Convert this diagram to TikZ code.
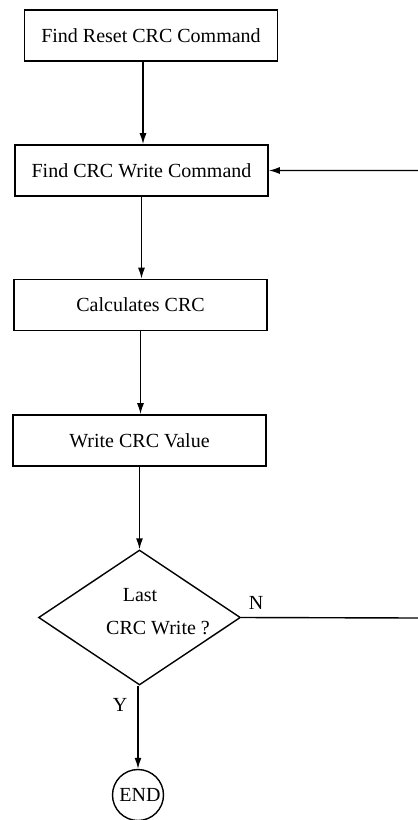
\documentclass[tikz,border=0pt]{standalone}
\usepackage{fontspec}
\setmainfont{Liberation Serif}
\usetikzlibrary{shapes.geometric,arrows.meta}
\begin{document}
\begin{tikzpicture}[x=1pt,y=-1pt,
  every node/.style={font=\fontsize{20}{24}\selectfont},
  stepbox/.style={draw,line width=1.6pt,rectangle,minimum width=253pt,minimum height=51pt,inner sep=0pt},
  decbox/.style={draw,line width=1.4pt,diamond,minimum width=202pt,minimum height=135pt,inner sep=0pt},
  endbox/.style={draw,line width=1.4pt,circle,minimum size=51pt,inner sep=0pt},
  arr/.style={line width=1.4pt,-{Latex[length=11pt,width=7pt]}},
  lbl/.style={inner sep=0pt}]
\useasboundingbox (0,0) rectangle (418,820);
\node[stepbox] (b1) at (151,35.5) {Find Reset CRC Command};
\node[stepbox] (b2) at (141.5,170.5) {Find CRC Write Command};
\node[stepbox] (b3) at (140.5,305) {Calculates CRC};
\node[stepbox] (b4) at (139.5,440.5) {Write CRC Value};
\node[decbox] (d) at (139.5,617.5) {};
\node[lbl] (t1) at (140,595) {Last};
\node[lbl] (t2) at (158,628) {CRC Write ?};
\node[endbox] (e) at (138,795) {\hspace*{4pt}END};
\node[lbl] (n) at (256,603) {N};
\node[lbl] (y) at (120,705) {Y};
\coordinate (c1) at (419.5,618);
\draw[arr] ([xshift=-8pt]b1.south) -- ([xshift=-8pt]b1.south |- b2.north);
\draw[arr] (b2.south) -- (b2.south |- b3.north);
\draw[arr] (b3.south) -- (b3.south |- b4.north);
\draw[arr] (b4.south) -- (b4.south |- d.north);
\draw[arr] ([xshift=-1.5pt]d.south) -- ([xshift=-1.5pt]d.south |- e.north);
\draw[arr] (d.east) -- (c1) |- (b2.east);
\end{tikzpicture}
\end{document}
